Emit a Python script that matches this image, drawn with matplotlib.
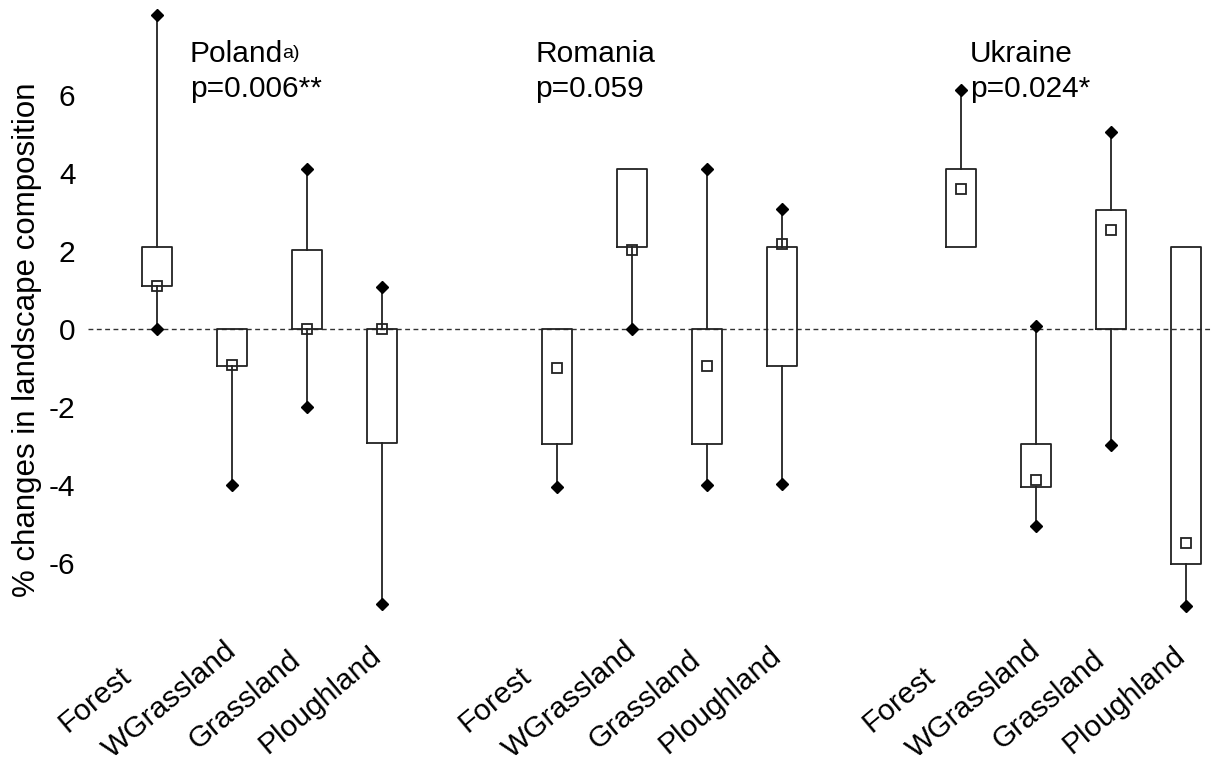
import matplotlib
matplotlib.use('Agg')
import matplotlib.pyplot as plt
import matplotlib.transforms as mtransforms
import numpy as np

plt.rcParams['font.family'] = ['Liberation Sans', 'DejaVu Sans']

countries = ['Poland', 'Romania', 'Ukraine']
p_values = ['p=0.006**', 'p=0.059', 'p=0.024*']
land_uses = ['Forest', 'WGrassland', 'Grassland', 'Ploughland']

# per country: Forest, WGrassland, Grassland, Ploughland
poland_min = [0.0, -4.0, -2.0, -7.05]
poland_q1 = [1.1, -0.95, 0.0, -2.93]
poland_med = [1.1, -0.92, 0.0, 0.0]
poland_q3 = [2.1, 0.0, 2.03, 0.0]
poland_max = [8.05, 0.0, 4.1, 1.07]

romania_min = [-4.04, 0.0, -4.0, -3.98]
romania_q1 = [-2.96, 2.1, -2.96, -0.95]
romania_med = [-1.01, 2.04, -0.94, 2.17]
romania_q3 = [0.0, 4.1, 0.0, 2.1]
romania_max = [0.0, 4.1, 4.1, 3.09]

ukraine_min = [2.1, -5.04, -2.97, -7.09]
ukraine_q1 = [2.1, -4.04, 0.0, -6.03]
ukraine_med = [3.59, -3.87, 2.54, -5.49]
ukraine_q3 = [4.1, -2.96, 3.05, 2.1]
ukraine_max = [6.13, 0.08, 5.06, 2.1]

mins = [poland_min, romania_min, ukraine_min]
q1s = [poland_q1, romania_q1, ukraine_q1]
meds = [poland_med, romania_med, ukraine_med]
q3s = [poland_q3, romania_q3, ukraine_q3]
maxs = [poland_max, romania_max, ukraine_max]

group_start = [0.0, 5.33, 10.72]

fig = plt.figure(figsize=(12.12, 7.71), dpi=100)
ax = fig.add_axes([88/1212, 146/771, 1124/1212, 625/771])

line_col = '#222222'
positions = []
stats = []
for g in range(3):
    for k in range(4):
        positions.append(group_start[g] + k)
        stats.append(dict(whislo=mins[g][k], q1=q1s[g][k], med=meds[g][k],
                          q3=q3s[g][k], whishi=maxs[g][k]))

ax.axhline(0, color='#333333', lw=1.0, ls=(0, (3.5, 2.5)), zorder=1)

ax.bxp(stats, positions=positions, widths=0.4, showcaps=False, showfliers=False,
       boxprops=dict(color=line_col, lw=1.3),
       whiskerprops=dict(color=line_col, lw=1.3),
       medianprops=dict(lw=0))

for pos, s in zip(positions, stats):
    if s['whishi'] > s['q3']:
        ax.plot(pos, s['whishi'], 'D', color='black', ms=6.5, zorder=4)
    if s['whislo'] < s['q1']:
        ax.plot(pos, s['whislo'], 'D', color='black', ms=6.5, zorder=4)
    ax.plot(pos, s['med'], 's', mfc='none', mec=line_col, mew=1.3, ms=7.5, zorder=5)

ax.set_xlim(-0.92, 14.07)
ax.set_ylim(-7.59, 8.44)
ax.set_yticks([-6, -4, -2, 0, 2, 4, 6])
ax.set_yticklabels(['-6', '-4', '-2', '0', '2', '4', '6'])
ax.set_xticks(positions)
ax.set_xticklabels(land_uses * 3)
ax.tick_params(axis='both', length=0, labelsize=21.5)
ax.tick_params(axis='y', pad=9)
ax.tick_params(axis='x', pad=54)
shift = mtransforms.ScaledTranslation(-0.62, 0, fig.dpi_scale_trans)
for lab in ax.get_xticklabels():
    lab.set_rotation(40)
    lab.set_ha('center')
    lab.set_va('center')
    lab.set_transform(lab.get_transform() + shift)
for sp in ax.spines.values():
    sp.set_visible(False)

ax.set_ylabel('% changes in landscape composition', fontsize=22.5)
ax.yaxis.set_label_coords(-0.041, 0.456)

# country headings
title_x = [190, 535, 970]
for name, pv, tx in zip(countries, p_values, title_x):
    fig.text(tx/1212, 1 - 62/771, name, fontsize=21.5, va='baseline', ha='left')
    fig.text(tx/1212, 1 - 97/771, pv, fontsize=21.5, va='baseline', ha='left')
fig.text(282/1212, 1 - 58/771, 'a)', fontsize=14, va='baseline', ha='left')

fig.savefig('out.png', dpi=100)
